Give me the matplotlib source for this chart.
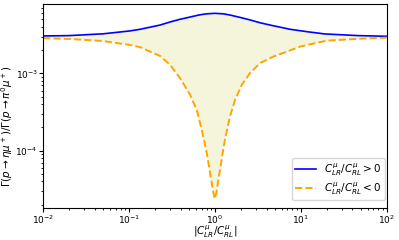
import numpy as np
import matplotlib
matplotlib.use("Agg")
import matplotlib.pyplot as plt

r_pos = [0.01, 0.02, 0.05, 0.1, 0.135, 0.23, 0.30, 0.39, 0.515, 0.65, 0.8, 1.0,
         1.25, 1.5, 1.95, 2.6, 3.35, 4.4, 7.5, 11.9, 18.9, 46.6, 100.0]
ratio_pos = [3.05e-3, 3.08e-3, 3.25e-3, 3.53e-3, 3.72e-3, 4.22e-3, 4.62e-3, 5.00e-3, 5.36e-3, 5.69e-3, 5.90e-3, 5.98e-3,
             5.90e-3, 5.69e-3, 5.31e-3, 4.90e-3, 4.52e-3, 4.22e-3, 3.72e-3, 3.46e-3, 3.24e-3, 3.08e-3, 3.02e-3]

r_neg = [0.01, 0.02, 0.05, 0.103, 0.135, 0.176, 0.23, 0.301, 0.394, 0.514, 0.615, 0.703, 0.805, 0.879, 0.961, 1.0,
         1.04, 1.10, 1.20, 1.31, 1.50, 1.72, 2.06, 2.57, 3.36, 4.80, 6.87, 9.81, 20.0, 50.0, 100.0]
ratio_neg = [2.85e-3, 2.79e-3, 2.62e-3, 2.33e-3, 2.18e-3, 1.91e-3, 1.68e-3, 1.29e-3, 8.66e-4, 5.28e-4, 3.38e-4, 1.87e-4,
             9.33e-5, 5.15e-5, 2.84e-5, 2.38e-5,
             2.80e-5, 4.23e-5, 7.66e-5, 1.39e-4, 2.77e-4, 4.55e-4, 7.11e-4, 1.01e-3, 1.36e-3, 1.65e-3, 1.91e-3, 2.22e-3,
             2.65e-3, 2.81e-3, 2.90e-3]

fs = 7.5

fig = plt.figure(figsize=(3.99, 2.4), dpi=100)
ax = fig.add_axes([0.108, 0.133, 0.861, 0.850])

# shaded band: polygon going along the upper curve and back along the lower one
ax.fill(np.concatenate([r_pos, r_neg[::-1]]), np.concatenate([ratio_pos, ratio_neg[::-1]]),
        color='beige', lw=0)

ax.plot(r_pos, ratio_pos, color='blue', lw=1.2, label=r'$C^{\mu}_{LR}/C^{\mu}_{RL}>0$')
ax.plot(r_neg, ratio_neg, color='orange', lw=1.4, ls='--', label=r'$C^{\mu}_{LR}/C^{\mu}_{RL}<0$')

ax.set_xscale('log')
ax.set_yscale('log')
ax.set_xlim(1e-2, 1e2)
ax.set_xlabel(r'$|C^{\mu}_{LR}/C^{\mu}_{RL}|$', fontsize=fs)
ax.set_ylabel(r'$\Gamma(p\to\eta\mu^+)/\Gamma(p\to\pi^0\mu^+)$', fontsize=fs)
ax.xaxis.set_label_coords(0.5, -0.078)
ax.yaxis.set_label_coords(-0.083, 0.40)
ax.tick_params(which='major', labelsize=6.5, length=2.8, pad=1.0)
ax.tick_params(which='minor', length=1.6)
ax.legend(loc='lower right', fontsize=fs, bbox_to_anchor=(0.995, 0.039), borderaxespad=0,
          labelspacing=0.25, borderpad=0.3)

fig.savefig('out.png', dpi=100)
